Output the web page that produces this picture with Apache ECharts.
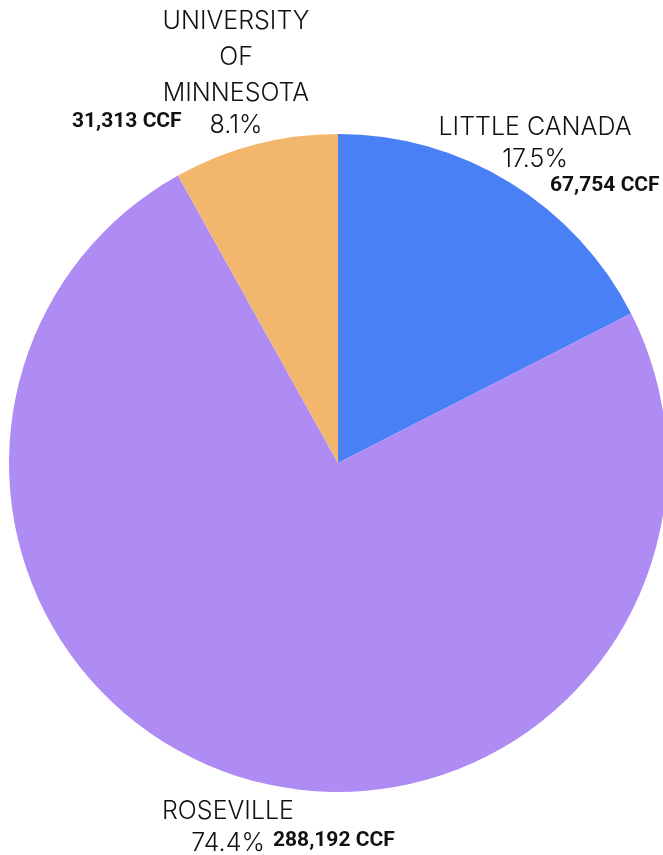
<!DOCTYPE html>
<html>
<head>
<meta charset="utf-8">
<script src="https://cdn.jsdelivr.net/npm/echarts@6/dist/echarts.min.js"></script>
<style>
html, body { margin: 0; padding: 0; background: #fff; }
#chart { width: 663px; height: 855px; }
</style>
</head>
<body>
<div id="chart"></div>
<script>
var names = ['LITTLE CANADA', 'ROSEVILLE', 'UNIVERSITY OF MINNESOTA'];
var values = [67754, 288192, 31313];
var colors = ['#4a80f5', '#ae8cf4', '#f2b66c'];

// label anchors (name + percent block, centre-top) and value labels (left-middle)
var namePos = [[535, 109], [228, 793], [236, 3]];
var valuePos = [[550, 186], [273, 841], [72, 122]];
var nameFont = '300 25px Inter';
var maxNameWidth = 230;

// wrap long names word by word
var ctx = document.createElement('canvas').getContext('2d');
ctx.font = nameFont;
function wrap(text, maxW) {
    var words = text.split(' ');
    var lines = [];
    var cur = '';
    words.forEach(function(w) {
        var t = cur ? cur + ' ' + w : w;
        if (cur && ctx.measureText(t).width > maxW) {
            lines.push(cur);
            cur = w;
        } else {
            cur = t;
        }
    });
    lines.push(cur);
    return lines;
}

var myChart = echarts.init(document.getElementById('chart'));

var pieData = names.map(function(n, i) {
    return { name: n, value: values[i], itemStyle: { color: colors[i] } };
});
var valueData = names.map(function(n, i) {
    return { name: n, value: values[i] };
});

var option = {
    animation: false,
    series: [{
        type: 'pie',
        center: [338, 463],
        radius: 329,
        startAngle: 90,
        clockwise: true,
        percentPrecision: 1,
        data: pieData,
        labelLine: { show: false },
        label: {
            show: true,
            position: 'outside',
            overflow: 'none',
            formatter: function(p) {
                var w = p.dataIndex === 2 ? 170 : maxNameWidth;
                var lines = wrap(p.name, w).map(function(l) { return '{n|' + l + '}'; });
                return lines.join('\n') + '\n{p|' + p.percent + '%}';
            },
            align: 'center',
            rich: {
                n: { fontFamily: 'Inter', fontWeight: 300, fontSize: 25, color: '#111', lineHeight: 36, align: 'center' },
                p: { fontFamily: 'Inter', fontWeight: 300, fontSize: 25, color: '#111', lineHeight: 29, align: 'center' }
            }
        },
        labelLayout: function(params) {
            var p = namePos[params.dataIndex];
            return { x: p[0], y: p[1], align: 'center', verticalAlign: 'top' };
        }
    }, {
        type: 'pie',
        silent: true,
        center: [338, 463],
        radius: 329,
        startAngle: 90,
        clockwise: true,
        data: valueData,
        itemStyle: { color: 'rgba(0,0,0,0)' },
        labelLine: { show: false },
        label: {
            show: true,
            position: 'outside',
            overflow: 'none',
            formatter: function(p) { return p.value.toLocaleString('en-US') + ' CCF'; },
            fontFamily: 'Roboto',
            fontWeight: 'bold',
            fontSize: 21,
            color: '#111'
        },
        labelLayout: function(params) {
            var p = valuePos[params.dataIndex];
            return { x: p[0], y: p[1], align: 'left', verticalAlign: 'middle' };
        }
    }]
};
myChart.setOption(option);
</script>
</body>
</html>
